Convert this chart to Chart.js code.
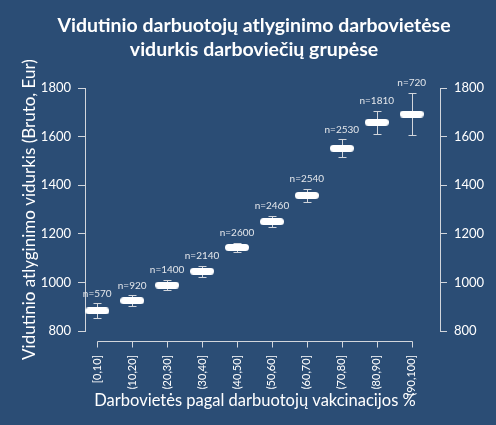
<!DOCTYPE html>
<html>
<head>
<meta charset="utf-8">
<script src="https://cdn.jsdelivr.net/npm/chart.js@4.4.1/dist/chart.umd.min.js"></script>
<style>
  html, body { margin: 0; padding: 0; background: #2b4d75; }
  #wrap { width: 496px; height: 425px; }
</style>
</head>
<body>
<div id="wrap"><canvas id="chart" width="496" height="425"></canvas></div>
<script>
// grupės pagal vakcinacijos procentą
const groups = ['[0,10]', '(10,20]', '(20,30]', '(30,40]', '(40,50]', '(50,60]', '(60,70]', '(70,80]', '(80,90]', '(90,100]'];
// vidurkis ir intervalas (Eur)
const medians = [883, 925, 989, 1046, 1144, 1250, 1358, 1552, 1659, 1693];
const lows = [855, 902, 967, 1023, 1124, 1228, 1330, 1515, 1609, 1605];
const highs = [914, 947, 1009, 1069, 1163, 1274, 1386, 1589, 1707, 1781];
const counts = ['n=570', 'n=920', 'n=1400', 'n=2140', 'n=2600', 'n=2460', 'n=2540', 'n=2530', 'n=1810', 'n=720'];
const yTicks = [800, 1000, 1200, 1400, 1600, 1800];
const xTitle = 'Darbovietės pagal darbuotojų vakcinacijos %';

const bg = '#2b4d75';
const lineColor = '#d2d6dc';
const fontFamily = "Lato, 'Open Sans', sans-serif";
Chart.defaults.font.family = fontFamily;

// baltas "piliulės" žymeklis
const pill = document.createElement('canvas');
pill.width = 24;
pill.height = 7;
const pc = pill.getContext('2d');
pc.fillStyle = '#ffffff';
pc.beginPath();
pc.arc(3.5, 3.5, 3.5, Math.PI / 2, Math.PI * 1.5);
pc.lineTo(20.5, 0);
pc.arc(20.5, 3.5, 3.5, -Math.PI / 2, Math.PI / 2);
pc.closePath();
pc.fill();

const extras = {
    id: 'extras',
    beforeDraw(chart) {
        const ctx = chart.ctx;
        ctx.save();
        ctx.fillStyle = bg;
        ctx.fillRect(0, 0, chart.width, chart.height);
        ctx.restore();
    },
    beforeDatasetsDraw(chart) {
        const { ctx, scales: { x, y } } = chart;
        ctx.save();
        ctx.strokeStyle = lineColor;
        ctx.lineWidth = 1;
        // paklaidų intervalai
        medians.forEach((m, i) => {
            const px = Math.round(x.getPixelForValue(i + 1)) + 0.5;
            const top = Math.round(y.getPixelForValue(highs[i])) + 0.5;
            const bot = Math.round(y.getPixelForValue(lows[i])) + 0.5;
            ctx.beginPath();
            ctx.moveTo(px, top); ctx.lineTo(px, bot);
            ctx.moveTo(px - 4, top); ctx.lineTo(px + 4, top);
            ctx.moveTo(px - 4, bot); ctx.lineTo(px + 4, bot);
            ctx.stroke();
        });
        // x ašis (atitraukta žemiau)
        const ay = Math.round(chart.chartArea.bottom + 10) + 0.5;
        const x0 = Math.round(x.getPixelForValue(1)) + 0.5;
        const x1 = Math.round(x.getPixelForValue(groups.length)) + 0.5;
        ctx.beginPath();
        ctx.moveTo(x0, ay); ctx.lineTo(x1, ay);
        groups.forEach((g, i) => {
            const px = Math.round(x.getPixelForValue(i + 1)) + 0.5;
            ctx.moveTo(px, ay); ctx.lineTo(px, ay + 6);
        });
        ctx.stroke();
        // x ašies pavadinimas
        ctx.fillStyle = '#ffffff';
        ctx.font = '16.5px ' + fontFamily;
        ctx.textAlign = 'center';
        ctx.textBaseline = 'middle';
        ctx.fillText(xTitle, (x0 + x1) / 2, 401);
        ctx.restore();
    },
    afterDatasetsDraw(chart) {
        const { ctx, scales: { x, y } } = chart;
        ctx.save();
        ctx.fillStyle = '#e4e7eb';
        ctx.font = '10px ' + fontFamily;
        ctx.textAlign = 'center';
        ctx.textBaseline = 'middle';
        counts.forEach((c, i) => {
            ctx.fillText(c, x.getPixelForValue(i + 1), y.getPixelForValue(highs[i]) - 10);
        });
        ctx.restore();
    }
};

const yAxis = (pos, width, withTitle) => ({
    position: pos,
    min: 800,
    max: 1800,
    afterBuildTicks: s => { s.ticks = yTicks.map(v => ({ value: v })); },
    afterFit: s => { s.width = width; },
    grid: { drawOnChartArea: false, drawTicks: true, tickLength: 7, color: lineColor },
    border: { display: true, color: lineColor, width: 1 },
    ticks: { color: '#ffffff', font: { size: 13 }, padding: 7, callback: v => String(v) },
    title: {
        display: withTitle,
        text: 'Vidutinio atlyginimo vidurkis (Bruto, Eur)',
        color: '#ffffff',
        font: { size: 17 },
        padding: { top: 7, bottom: 0 }
    }
});

new Chart(document.getElementById('chart'), {
    type: 'scatter',
    data: {
        datasets: [{
            data: medians.map((m, i) => ({ x: i + 1, y: m })),
            pointStyle: pill,
            pointRadius: 12,
            pointHoverRadius: 12
        }]
    },
    options: {
        responsive: false,
        animation: false,
        events: [],
        layout: { padding: { left: 12, right: 0, top: 0, bottom: 0 } },
        plugins: {
            legend: { display: false },
            tooltip: { enabled: false },
            title: {
                display: true,
                text: ['Vidutinio darbuotojų atlyginimo darbovietėse', 'vidurkis darboviečių grupėse'],
                color: '#ffffff',
                font: { size: 19.5, weight: 'bold', lineHeight: 1.27 },
                padding: { top: 13, bottom: 25.5 }
            }
        },
        scales: {
            x: {
                type: 'linear',
                min: 0.65,
                max: 10.81,
                afterBuildTicks: s => { s.ticks = groups.map((g, i) => ({ value: i + 1 })); },
                afterFit: s => { s.height = 94; },
                grid: { display: false, drawTicks: false },
                border: { display: false },
                ticks: {
                    color: '#ffffff',
                    font: { size: 11 },
                    minRotation: 90,
                    maxRotation: 90,
                    autoSkip: false,
                    padding: 24,
                    callback: v => groups[v - 1]
                }
            },
            y: yAxis('left', 73, true),
            y2: yAxis('right', 56, false)
        }
    },
    plugins: [extras]
});
</script>
</body>
</html>
